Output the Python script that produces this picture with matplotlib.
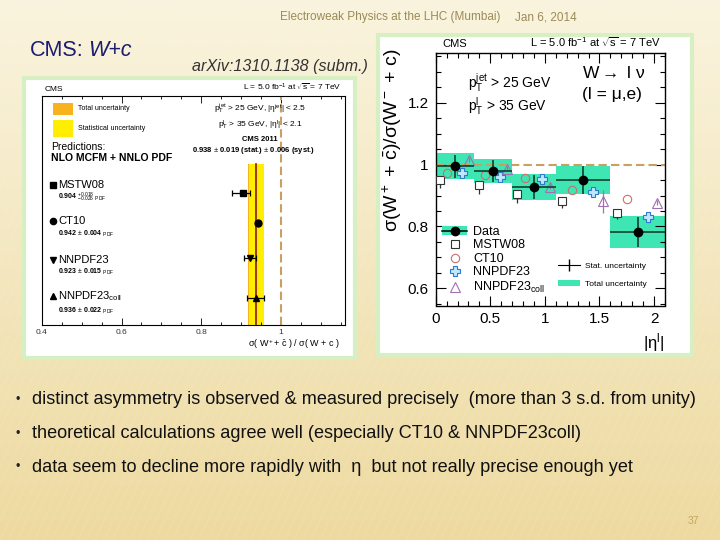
import numpy as np
import matplotlib
matplotlib.use("Agg")
import matplotlib.pyplot as plt
from matplotlib.patches import Rectangle, Patch
from matplotlib.lines import Line2D
from matplotlib.ticker import MultipleLocator

plt.rcParams["font.family"] = ["Liberation Sans", "DejaVu Sans"]
plt.rcParams["mathtext.fontset"] = "custom"
plt.rcParams["mathtext.rm"] = "Liberation Sans"
plt.rcParams["mathtext.it"] = "Liberation Sans:italic"
plt.rcParams["mathtext.bf"] = "Liberation Sans:bold"

# ------------------------------------------------------------------
# Left panel: inclusive ratio vs predictions
# ------------------------------------------------------------------
pred_names = ["MSTW08", "CT10", "NNPDF23", "NNPDF23$_{\\rm coll}$"]
pred_markers = ["s", "o", "v", "^"]
pred_vals = [0.904, 0.942, 0.923, 0.936]
pred_err_lo = [0.026, 0.004, 0.015, 0.022]
pred_err_hi = [0.018, 0.004, 0.015, 0.022]
pred_texts = ["0.904 $^{+0.018}_{-0.026}$ $_{\\rm PDF}$",
              "0.942 $\\pm$ 0.004 $_{\\rm PDF}$",
              "0.923 $\\pm$ 0.015 $_{\\rm PDF}$",
              "0.936 $\\pm$ 0.022 $_{\\rm PDF}$"]
meas_val = 0.938
meas_stat = 0.019
meas_syst = 0.006

# ------------------------------------------------------------------
# Right panel: ratio vs |eta| of the lepton
# ------------------------------------------------------------------
eta_edges = [0.0, 0.35, 0.7, 1.1, 1.6, 2.1]
data_val = [0.995, 0.979, 0.927, 0.950, 0.783]
data_stat = [0.037, 0.036, 0.039, 0.044, 0.048]
data_tot = [0.041, 0.039, 0.041, 0.046, 0.051]

mstw = [0.951, 0.934, 0.905, 0.883, 0.845]
mstw_lo = [0.026, 0.030, 0.028, 0.024, 0.020]
mstw_hi = [0.006, 0.006, 0.006, 0.006, 0.006]
ct10 = [0.974, 0.965, 0.955, 0.918, 0.888]
nnpdf = [0.972, 0.961, 0.953, 0.911, 0.830]
nnpdf_err = [0.010, 0.010, 0.012, 0.014, 0.012]
coll = [1.015, 0.987, 0.928, 0.883, 0.877]
coll_lo = [0.008, 0.008, 0.008, 0.040, 0.008]
coll_hi = [0.008, 0.008, 0.008, 0.035, 0.008]

bullets = [
    "distinct asymmetry is observed & measured precisely  (more than 3 s.d. from unity)",
    "theoretical calculations agree well (especially CT10 & NNPDF23coll)",
    "data seem to decline more rapidly with  \u03b7  but not really precise enough yet",
]

W, H = 720, 540
fig = plt.figure(figsize=(7.2, 5.4), dpi=100)


def fx(px):
    return px / W


def fy(py):
    return 1 - py / H


# slide background
bg = fig.add_axes([0, 0, 1, 1], zorder=-10)
top = np.array([250, 244, 222]) / 255
bot = np.array([238, 218, 160]) / 255
t = np.linspace(0, 1, 200)[:, None, None]
grad = top * (1 - t) + bot * t
grad = np.repeat(grad, 2, axis=1)
bg.imshow(grad, aspect="auto", extent=[0, 1, 0, 1])
for k in np.arange(-0.6, 1.6, 0.012):
    bg.plot([k, k + 0.35], [0, 1], color="white", lw=0.6, alpha=0.12)
bg.set_xlim(0, 1)
bg.set_ylim(0, 1)
bg.axis("off")

# panels (white pictures with light green frame)
for x0, y0, x1, y1 in [(24, 78, 355, 358), (378, 35, 692, 355)]:
    fig.patches.append(Rectangle((fx(x0), fy(y1)), fx(x1 - x0), (y1 - y0) / H,
                                 transform=fig.transFigure, facecolor="white",
                                 edgecolor="#d6f0c4", lw=3, zorder=-5))

# slide texts
fig.text(fx(280), fy(17), "Electroweak Physics at the LHC (Mumbai)", fontsize=8.5,
         color="#9c8a58", va="center")
fig.text(fx(515), fy(17), "Jan 6, 2014", fontsize=8.5, color="#9c8a58", va="center")
fig.text(fx(30), fy(50), "CMS:", fontsize=15.5, color="#1c1c70", va="center")
fig.text(fx(88), fy(50), "W+c", fontsize=15.5, color="#1c1c70", va="center", style="italic")
fig.text(fx(192), fy(66), "arXiv:1310.1138 (subm.)", fontsize=11.6, color="#333333",
         va="center", style="italic")
for i, line in enumerate(bullets):
    y = fy(400 + 33.5 * i)
    fig.text(fx(15), y, "\u2022", fontsize=9, color="#222222", va="center")
    fig.text(fx(32), y, line, fontsize=13.1, color="#111111", va="center")
fig.text(fx(688), fy(521), "37", fontsize=7.5, color="#c4a860", va="center")

# ------------------------------------------------------------------
# left plot
# ------------------------------------------------------------------
axl = fig.add_axes([fx(41.7), fy(325), fx(303.3), 229.3 / H], zorder=2)
axl.set_xlim(0.4, 1.16)
axl.set_ylim(0, 1)
row_y = [0.575, 0.447, 0.291, 0.119]
band_top = 0.702
tot = np.hypot(meas_stat, meas_syst)
axl.fill_betweenx([0, band_top], meas_val - tot, meas_val + tot, color="#f7b21c", lw=0)
axl.fill_betweenx([0, band_top], meas_val - meas_stat, meas_val + meas_stat, color="#ffee00", lw=0)
axl.plot([meas_val, meas_val], [0, band_top], color="#8b1a1a", lw=1.2)
axl.axvline(1.0, color="#c8a060", lw=1.5, dashes=(4, 2))
for yy, v, lo, hi, m in zip(row_y, pred_vals, pred_err_lo, pred_err_hi, pred_markers):
    axl.errorbar(v, yy, xerr=[[lo], [hi]], fmt=m, color="black", ms=5,
                 elinewidth=0.9, capsize=2, capthick=0.9)

label_y = [0.61, 0.455, 0.285, 0.125]
value_y = [0.555, 0.397, 0.232, 0.062]
for name, txt, m, ly, vy in zip(pred_names, pred_texts, pred_markers, label_y, value_y):
    axl.plot(0.428, ly, marker=m, color="black", ms=4.5)
    axl.text(0.441, ly, name, fontsize=8, va="center")
    axl.text(0.44, vy, txt, fontsize=5, fontweight="bold", va="center")

axl.add_patch(Rectangle((0.037, 0.916), 0.066, 0.052, transform=axl.transAxes,
                        color="#f7b21c", lw=0))
axl.add_patch(Rectangle((0.037, 0.82), 0.066, 0.074, transform=axl.transAxes,
                        color="#ffee00", lw=0))
axl.text(0.12, 0.942, "Total uncertainty", transform=axl.transAxes, fontsize=5, va="center")
axl.text(0.12, 0.857, "Statistical uncertainty", transform=axl.transAxes, fontsize=5, va="center")
axl.text(0.72, 0.944, "p$_{\\rm T}^{\\rm jet}$ > 25 GeV, |\u03b7$^{\\rm jet}$| < 2.5",
         transform=axl.transAxes, fontsize=6, ha="center", va="center")
axl.text(0.72, 0.87, "p$_{\\rm T}^{\\rm l}$ > 35 GeV, |\u03b7$^{\\rm l}$| < 2.1",
         transform=axl.transAxes, fontsize=6, ha="center", va="center")
axl.text(0.72, 0.807, "CMS 2011", transform=axl.transAxes, fontsize=5.5,
         fontweight="bold", ha="center", va="center")
axl.text(0.70, 0.759, "0.938 $\\pm$ 0.019 (stat.) $\\pm$ 0.006 (syst.)",
         transform=axl.transAxes, fontsize=5.5, fontweight="bold", ha="center", va="center")
axl.text(0.031, 0.776, "Predictions:", transform=axl.transAxes, fontsize=7.5, va="center")
axl.text(0.031, 0.728, "NLO MCFM + NNLO PDF", transform=axl.transAxes, fontsize=7.5,
         fontweight="bold", va="center")
axl.text(0.011, 1.01, "CMS", transform=axl.transAxes, fontsize=6, va="bottom")
axl.text(0.987, 1.01, "L = 5.0 fb$^{-1}$ at $\\sqrt{\\rm s}$ = 7 TeV", transform=axl.transAxes,
         fontsize=6, ha="right", va="bottom")
axl.text(0.985, -0.052, "\u03c3( W$^+$+ $\\bar{\\rm c}$ ) / \u03c3( W + c )",
         transform=axl.transAxes, fontsize=6.5, ha="right", va="top")
axl.xaxis.set_minor_locator(MultipleLocator(0.05))
axl.set_xticks([0.4, 0.6, 0.8, 1.0])
axl.set_xticklabels(["0.4", "0.6", "0.8", "1"])
axl.tick_params(axis="x", which="both", direction="in", top=True, labelsize=6,
                labelcolor="#333333", width=0.6)
axl.tick_params(axis="x", which="major", length=5, pad=3)
axl.tick_params(axis="x", which="minor", length=2.5)
axl.set_yticks([])
for s in axl.spines.values():
    s.set_linewidth(0.8)

# ------------------------------------------------------------------
# right plot
# ------------------------------------------------------------------
axr = fig.add_axes([fx(435.7), fy(305.5), fx(229.3), 252.5 / H], zorder=2)
edges = np.array(eta_edges)
centers = (edges[:-1] + edges[1:]) / 2
widths = np.diff(edges)
val = np.array(data_val)
tot_r = np.array(data_tot)
green = "#3ee6b4"

axr.bar(centers, 2 * tot_r, bottom=val - tot_r, width=widths, color=green, lw=0, zorder=1)
axr.axhline(1.0, color="#c8a060", lw=1.5, dashes=(4, 2), zorder=2)

fr = [0.12, 0.3, 0.68, 0.86]
xs = [edges[:-1] + f * widths for f in fr]
axr.errorbar(xs[0], mstw, yerr=[mstw_lo, mstw_hi], fmt="s", ms=6, mfc="white",
             mec="#333333", ecolor="#333333", elinewidth=0.9, mew=0.8, zorder=3)
axr.errorbar(xs[1], ct10, fmt="o", ms=6, mfc="none", mec="#c8706a", mew=0.8, zorder=3)
axr.errorbar(xs[2], nnpdf, yerr=nnpdf_err, fmt="P", ms=7, mfc="#bfe8ff", mec="#2a7ad0",
             ecolor="#2a7ad0", elinewidth=0.9, mew=0.8, zorder=3)
axr.errorbar(xs[3], coll, yerr=[coll_lo, coll_hi], fmt="^", ms=6.5, mfc="none",
             mec="#a070b0", ecolor="#a070b0", elinewidth=0.9, mew=0.8, zorder=3)
axr.errorbar(centers, val, xerr=widths / 2, yerr=data_stat, fmt="o", ms=6,
             color="black", ecolor="#0d3322", elinewidth=1.1, zorder=4)

axr.set_xlim(0, 2.1)
axr.set_ylim(0.545, 1.36)
axr.xaxis.set_major_locator(MultipleLocator(0.5))
axr.xaxis.set_minor_locator(MultipleLocator(0.1))
axr.yaxis.set_major_locator(MultipleLocator(0.2))
axr.yaxis.set_minor_locator(MultipleLocator(0.05))
axr.xaxis.set_major_formatter(plt.FuncFormatter(lambda v, p: f"{v:g}"))
axr.yaxis.set_major_formatter(plt.FuncFormatter(lambda v, p: f"{v:g}"))
axr.tick_params(which="both", direction="in", top=True, right=True, labelsize=11, width=0.8)
axr.tick_params(which="major", length=7, pad=5)
axr.tick_params(which="minor", length=3.5)
for s in axr.spines.values():
    s.set_linewidth(1.0)

axr.text(0.027, 1.015, "CMS", transform=axr.transAxes, fontsize=8, va="bottom")
axr.text(0.985, 1.015, "L = 5.0 fb$^{-1}$ at $\\sqrt{\\rm s}$ = 7 TeV", transform=axr.transAxes,
         fontsize=8, ha="right", va="bottom")
axr.text(0.14, 0.88, "p$_{\\rm T}^{\\rm jet}$ > 25 GeV", transform=axr.transAxes,
         fontsize=10, va="center")
axr.text(0.14, 0.79, "p$_{\\rm T}^{\\rm l}$ > 35 GeV", transform=axr.transAxes,
         fontsize=10, va="center")
axr.text(0.64, 0.92, "W$\\rightarrow$ l \u03bd", transform=axr.transAxes, fontsize=12.5,
         va="center")
axr.text(0.64, 0.835, "(l = \u03bc,e)", transform=axr.transAxes, fontsize=12.5, va="center")
fig.text(fx(392), fy(140), "\u03c3(W$^+$ + $\\bar{\\rm c}$)/\u03c3(W$^-$ + c)", rotation=90,
         fontsize=14, ha="center", va="center")
axr.text(1.0, -0.1, "|\u03b7$^{\\rm l}$|", transform=axr.transAxes, fontsize=12,
         ha="right", va="top")

h_data = (Patch(color=green, lw=0), Line2D([], [], color="black", marker="o", ms=6, lw=1.1))
h_mstw = Line2D([], [], ls="none", marker="s", ms=6, mfc="white", mec="#333333", mew=0.8)
h_ct10 = Line2D([], [], ls="none", marker="o", ms=6, mfc="none", mec="#c8706a", mew=0.8)
h_nnpdf = Line2D([], [], ls="none", marker="P", ms=7, mfc="#bfe8ff", mec="#2a7ad0", mew=0.8)
h_coll = Line2D([], [], ls="none", marker="^", ms=6.5, mfc="none", mec="#a070b0", mew=0.8)
leg1 = axr.legend([h_data, h_mstw, h_ct10, h_nnpdf, h_coll],
                  ["Data", "MSTW08", "CT10", "NNPDF23", "NNPDF23$_{\\rm coll}$"],
                  loc="upper left", bbox_to_anchor=(-0.01, 0.35), frameon=False,
                  fontsize=9, handlelength=2.0, handletextpad=0.5, labelspacing=0.12,
                  borderaxespad=0.3)
axr.add_artist(leg1)
h_stat = Line2D([], [], color="black", marker="|", ms=8, lw=0.8)
h_tot = Patch(color=green, lw=0)
axr.legend([h_stat, h_tot], ["Stat. uncertainty", "Total uncertainty"],
           loc="upper left", bbox_to_anchor=(0.5, 0.2), frameon=False, fontsize=6,
           handlelength=2.6, handletextpad=0.6, labelspacing=1.15)

fig.savefig("out.png", dpi=100)
